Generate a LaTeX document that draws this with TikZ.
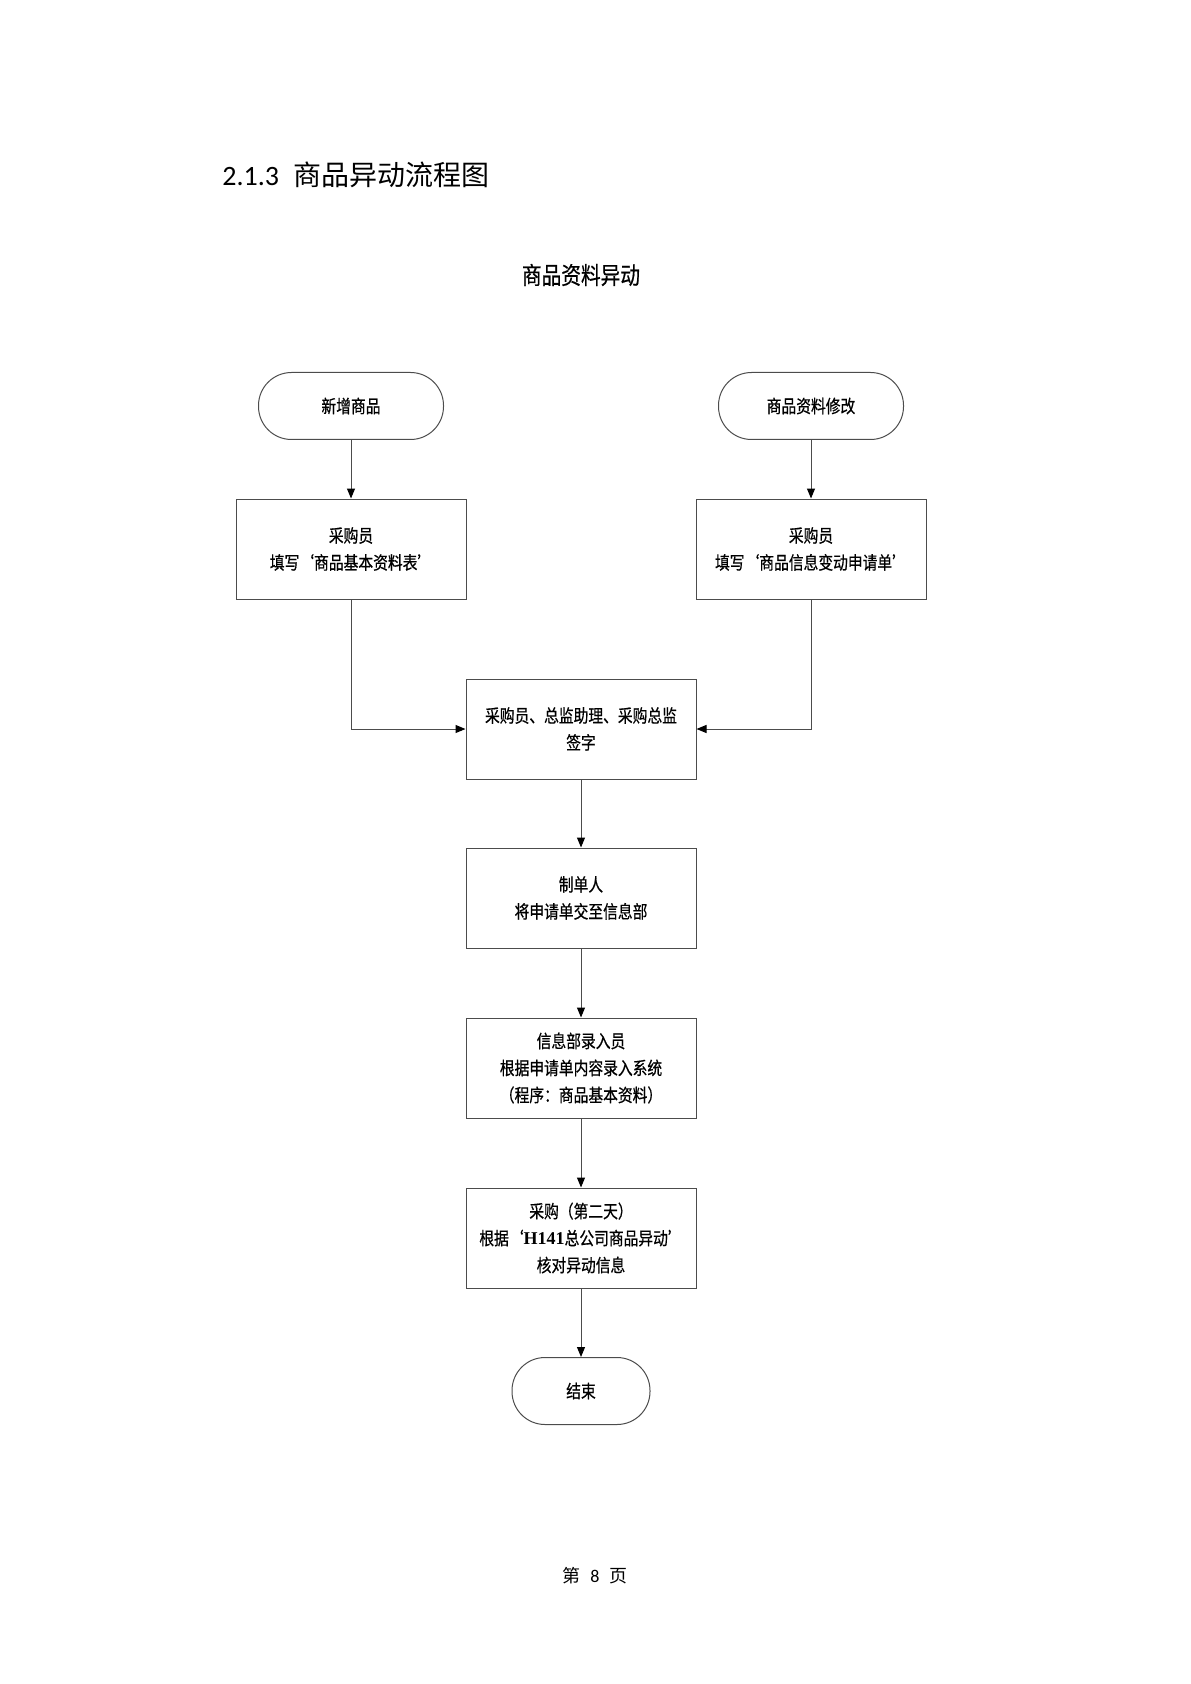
\documentclass[tikz,border=0pt]{standalone}
\usepackage{fontspec}
\setmainfont{Carlito}
\newfontfamily\cjk[FakeStretch=0.82, FakeBold=0.6]{Noto Sans CJK SC}
\newfontfamily\cjkhead{Noto Sans CJK SC}
\newfontfamily\serifnum{Liberation Serif}
\usetikzlibrary{arrows.meta}

\begin{document}
\begin{tikzpicture}[x=0.5pt, y=-0.5pt,
    box/.style={draw=black!70, line width=0.5pt, minimum width=115pt, minimum height=50pt,
        align=center, font=\cjk\fontsize{9}{13.5}\selectfont},
    term/.style={box, rounded corners=16.5pt, minimum width=92.5pt, minimum height=33.5pt},
    link/.style={draw=black!70, line width=0.5pt, -{Triangle[length=5pt, width=4pt, fill=black, color=black]}}]
    \useasboundingbox (0,0) rectangle (1190,1684);

    % headings
    \node[anchor=base west, inner sep=0pt, font=\fontsize{14}{14}\selectfont] (head) at (222,186)
        {2.1.3\hspace{7pt}{\cjkhead 商品异动流程图}};
    \node[inner sep=0pt, font=\cjk\fontsize{12}{12}\selectfont] (title) at (581,275) {商品资料异动};

    % flow
    \node[term] (new) at (351,406) {新增商品};
    \node[term] (mod) at (811,406) {商品资料修改};
    \node[box] (fillnew) at (351,549) {采购员\\填写‘商品基本资料表’};
    \node[box] (fillmod) at (811,549) {采购员\\填写‘商品信息变动申请单’};
    \node[box] (sign) at (581,729) {采购员、总监助理、采购总监\\签字};
    \node[box] (maker) at (581,898) {制单人\\将申请单交至信息部};
    \node[box] (entry) at (581,1068) {信息部录入员\\根据申请单内容录入系统\\（程序：商品基本资料）};
    \node[box] (check) at (581,1238) {采购（第二天）\\根据‘{\serifnum\bfseries H141}总公司商品异动’\\核对异动信息};
    \node[term, minimum width=69pt] (end) at (581,1391) {结束};

    \draw[link] (new) -- (fillnew);
    \draw[link] (mod) -- (fillmod);
    \draw[link] (fillnew) |- (sign);
    \draw[link] (fillmod) |- (sign);
    \draw[link] (sign) -- (maker);
    \draw[link] (maker) -- (entry);
    \draw[link] (entry) -- (check);
    \draw[link] (check) -- (end);

    % page number
    \node[inner sep=0pt, font=\fontsize{9}{9}\selectfont] (page) at (595,1576)
        {{\cjkhead 第}\hspace{5pt}8\hspace{5pt}{\cjkhead 页}};
\end{tikzpicture}
\end{document}
